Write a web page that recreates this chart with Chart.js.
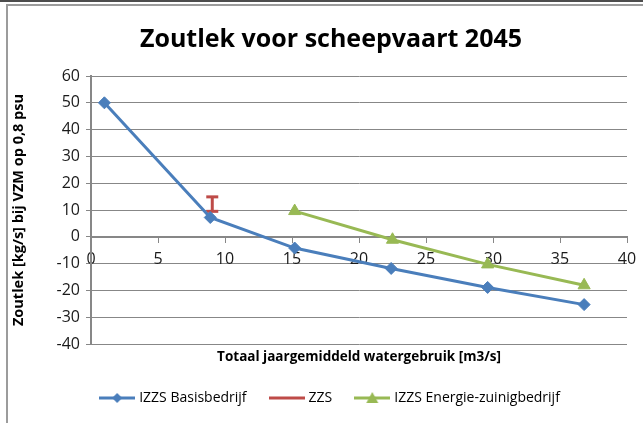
<!DOCTYPE html>
<html>
<head>
<meta charset="utf-8">
<script src="https://cdn.jsdelivr.net/npm/chart.js@4.4.1/dist/chart.umd.min.js"></script>
<style>
    html, body { margin: 0; padding: 0; background: #fff; overflow: hidden; }
    #wrap { width: 656px; height: 423px; }
</style>
</head>
<body>
<div id="wrap"><canvas id="zoutlek"></canvas></div>
<script>
// waarden
const debietBasis = [1, 8.9, 15.2, 22.4, 29.6, 36.8];
const zoutlekBasis = [50, 7.2, -4.2, -11.8, -18.9, -25.3];
const debietZZS = [9.05, 9.05];
const zoutlekZZS = [9.5, 14.9];
const debietEnergie = [15.2, 22.5, 29.6, 36.8];
const zoutlekEnergie = [9.6, -1.1, -10.3, -18.1];
const reeksen = ["IZZS Basisbedrijf", "ZZS", "IZZS Energie-zuinigbedrijf"];
const kleuren = ["#4a7ebb", "#be4b48", "#98b954"];

const punten = (xs, ys) => xs.map((x, i) => ({ x: x, y: ys[i] }));

const lettertype = "'Open Sans', sans-serif";
const grijs = "#878787";

function legendaIcoon(kleur, marker) {
    const c = document.createElement("canvas");
    c.width = 36;
    c.height = 14;
    const ctx = c.getContext("2d");
    ctx.strokeStyle = kleur;
    ctx.fillStyle = kleur;
    ctx.lineWidth = 3;
    ctx.beginPath();
    ctx.moveTo(0, 7);
    ctx.lineTo(36, 7);
    ctx.stroke();
    ctx.beginPath();
    if (marker === "ruit") {
        ctx.moveTo(18, 2);
        ctx.lineTo(23, 7);
        ctx.lineTo(18, 12);
        ctx.lineTo(13, 7);
    } else if (marker === "driehoek") {
        ctx.moveTo(18, 1);
        ctx.lineTo(24, 12);
        ctx.lineTo(12, 12);
    }
    ctx.closePath();
    if (marker) ctx.fill();
    return c;
}

const iconen = [
    legendaIcoon(kleuren[0], "ruit"),
    legendaIcoon(kleuren[1], null),
    legendaIcoon(kleuren[2], "driehoek"),
];

const kader = {
    id: "kader",
    beforeDraw(chart) {
        const ctx = chart.ctx;
        ctx.save();
        ctx.fillStyle = "#fff";
        ctx.fillRect(0, 0, chart.width, chart.height);
        ctx.fillStyle = "#4d4d4d";
        ctx.fillRect(0, 0, chart.width, 2);
        ctx.fillStyle = "#9c9c9c";
        ctx.fillRect(6, 4, chart.width - 6, 2);
        ctx.fillRect(6, 4, 2, chart.height - 4);
        ctx.restore();
    },
};

Chart.defaults.font.family = lettertype;
Chart.defaults.color = "#1a1a1a";

new Chart(document.getElementById("zoutlek"), {
    type: "scatter",
    data: {
        datasets: [
            {
                label: reeksen[0],
                data: punten(debietBasis, zoutlekBasis),
                showLine: true,
                borderColor: kleuren[0],
                backgroundColor: kleuren[0],
                borderWidth: 3,
                pointStyle: "rectRot",
                pointRadius: 6,
                pointBorderWidth: 1,
            },
            {
                label: reeksen[1],
                data: punten(debietZZS, zoutlekZZS),
                showLine: true,
                borderColor: kleuren[1],
                backgroundColor: kleuren[1],
                borderWidth: 3,
                pointStyle: "line",
                pointRadius: 6,
                pointBorderWidth: 3,
            },
            {
                label: reeksen[2],
                data: punten(debietEnergie, zoutlekEnergie),
                showLine: true,
                borderColor: kleuren[2],
                backgroundColor: kleuren[2],
                borderWidth: 3,
                pointStyle: "triangle",
                pointRadius: 7,
                pointBorderWidth: 1,
            },
        ],
    },
    options: {
        responsive: true,
        maintainAspectRatio: false,
        animation: false,
        layout: { padding: { left: 6, right: 0, top: 0, bottom: 8 } },
        scales: {
            x: {
                type: "linear",
                position: { y: 0 },
                min: 0,
                max: 40,
                grid: { drawOnChartArea: false, drawTicks: true, tickLength: 5, color: grijs },
                border: { color: grijs, width: 2 },
                ticks: { stepSize: 5, padding: 8, font: { size: 16 } },
            },
            x2: {
                type: "linear",
                axis: "x",
                position: "bottom",
                grid: { display: false, drawTicks: false },
                border: { display: false },
                ticks: { display: false },
                title: {
                    display: true,
                    text: "Totaal jaargemiddeld watergebruik [m3/s]",
                    color: "#000",
                    font: { size: 13.5, weight: "bold" },
                    padding: { top: 4.9, bottom: 0.9 },
                },
            },
            y: {
                min: -40,
                max: 60,
                grid: { color: grijs, tickLength: 5 },
                border: { color: grijs, width: 2 },
                ticks: { stepSize: 10, padding: 6, font: { size: 16 } },
                title: {
                    display: true,
                    text: "Zoutlek [kg/s] bij VZM op 0,8 psu",
                    color: "#000",
                    font: { size: 14.5, weight: "bold" },
                    padding: { top: 4, bottom: 0 },
                },
                afterFit: function (scale) {
                    scale.width = 85;
                },
            },
            rechts: {
                type: "linear",
                axis: "y",
                position: "right",
                grid: { display: false, drawTicks: false },
                border: { display: false },
                ticks: { display: false },
                afterFit: function (scale) {
                    scale.width = 29;
                },
            },
        },
        plugins: {
            title: {
                display: true,
                text: "Zoutlek voor scheepvaart 2045",
                color: "#000",
                font: { size: 25, weight: "bold" },
                padding: { top: 25, bottom: 21 },
            },
            legend: {
                position: "bottom",
                labels: {
                    usePointStyle: true,
                    pointStyleWidth: 30,
                    padding: 25,
                    color: "#000",
                    font: { size: 14 },
                    generateLabels: function (chart) {
                        return Chart.defaults.plugins.legend.labels
                            .generateLabels(chart)
                            .map((item, i) => ({ ...item, pointStyle: iconen[i] }));
                    },
                },
            },
            tooltip: { enabled: false },
        },
    },
    plugins: [kader],
});
</script>
</body>
</html>
